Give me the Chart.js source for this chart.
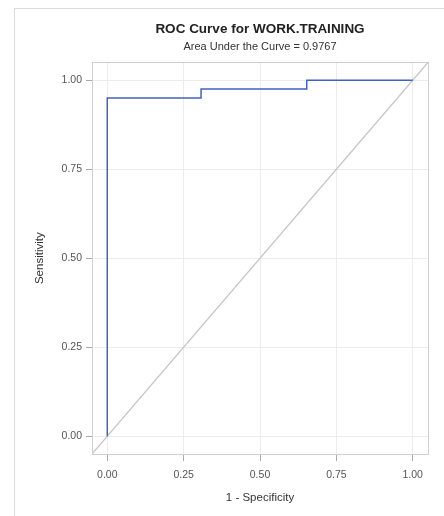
<!DOCTYPE html>
<html>
<head>
<meta charset="utf-8">
<script src="https://cdn.jsdelivr.net/npm/chart.js@4/dist/chart.umd.min.js"></script>
<style>
  html, body { margin: 0; padding: 0; background: #fff; }
  #wrap { position: relative; width: 444px; height: 516px; overflow: hidden; }
  #frame { position: absolute; left: 14px; top: 8px; width: 600px; height: 700px; border: 1px solid #dcdcdc; box-sizing: border-box; }
  canvas { position: absolute; left: 0; top: 0; }
</style>
</head>
<body>
<div id="wrap">
  <div id="frame"></div>
  <canvas id="c" width="444" height="516"></canvas>
</div>
<script>
// ROC curve points (1 - Specificity, Sensitivity)
const fpr = [0, 0, 0.307, 0.307, 0.653, 0.653, 1];
const tpr = [0, 0.95, 0.95, 0.975, 0.975, 1, 1];
// Chance diagonal spanning the plot range
const refX = [-0.05, 1.05];
const refY = [-0.05, 1.05];
const tickValues = [0, 0.25, 0.5, 0.75, 1];
const titleText = 'ROC Curve for WORK.TRAINING';
const subtitleText = 'Area Under the Curve = 0.9767';
const xTitle = '1 - Specificity';
const yTitle = 'Sensitivity';

const FONT = "'Liberation Sans', Arial, sans-serif";

const frameBox = {
  id: 'frameBox',
  afterDatasetsDraw(chart) {
    const a = chart.chartArea;
    const ctx = chart.ctx;
    ctx.save();
    ctx.strokeStyle = '#cfcfcf';
    ctx.lineWidth = 1;
    ctx.strokeRect(Math.round(a.left) + 0.5, Math.round(a.top) + 0.5, Math.round(a.right - a.left), Math.round(a.bottom - a.top));
    ctx.restore();
  }
};

function fixedTicks(scale) {
  scale.ticks = tickValues.map(v => ({ value: v }));
}

new Chart(document.getElementById('c'), {
  type: 'scatter',
  data: {
    datasets: [
      {
        data: refX.map((x, i) => ({ x: x, y: refY[i] })),
        showLine: true,
        borderColor: '#c6c6c6',
        borderWidth: 1.3,
        pointRadius: 0,
        order: 2
      },
      {
        data: fpr.map((x, i) => ({ x: x, y: tpr[i] })),
        showLine: true,
        borderColor: '#3f62c2',
        borderWidth: 1.5,
        pointRadius: 0,
        order: 1
      }
    ]
  },
  plugins: [frameBox],
  options: {
    responsive: false,
    animation: false,
    devicePixelRatio: 1,
    layout: { padding: { left: 0, top: 0, right: 16, bottom: 0 } },
    plugins: {
      legend: { display: false },
      tooltip: { enabled: false },
      title: {
        display: true,
        fullSize: false,
        text: titleText,
        color: '#222',
        font: { family: FONT, size: 13.5, weight: 'bold', lineHeight: 1.2 },
        padding: { top: 21, bottom: 2 }
      },
      subtitle: {
        display: true,
        fullSize: false,
        text: subtitleText,
        color: '#333',
        font: { family: FONT, size: 11, lineHeight: 1.2 },
        padding: { top: 1, bottom: 9 }
      }
    },
    scales: {
      x: {
        type: 'linear',
        min: -0.05,
        max: 1.05,
        afterBuildTicks: fixedTicks,
        afterFit(scale) { scale.height = 62; },
        grid: { color: '#ececec', tickColor: '#aaaaaa', tickLength: 7, drawOnChartArea: true },
        border: { display: false },
        ticks: {
          color: '#555',
          font: { family: FONT, size: 10.5 },
          padding: 8,
          maxRotation: 0,
          callback: v => Number(v).toFixed(2)
        },
        title: {
          display: true,
          text: xTitle,
          color: '#333',
          font: { family: FONT, size: 11.5, lineHeight: 1.2 },
          padding: { top: 0, bottom: 11 }
        }
      },
      y: {
        type: 'linear',
        min: -0.05,
        max: 1.05,
        afterBuildTicks: fixedTicks,
        afterFit(scale) { scale.width = 92; },
        grid: { color: '#ececec', tickColor: '#aaaaaa', tickLength: 6 },
        border: { display: false },
        ticks: {
          color: '#555',
          font: { family: FONT, size: 10.5 },
          padding: 4,
          callback: v => Number(v).toFixed(2)
        },
        title: {
          display: true,
          text: yTitle,
          color: '#333',
          font: { family: FONT, size: 11.5, lineHeight: 1.2 },
          padding: { top: 33, bottom: 0 }
        }
      }
    }
  }
});
</script>
</body>
</html>
